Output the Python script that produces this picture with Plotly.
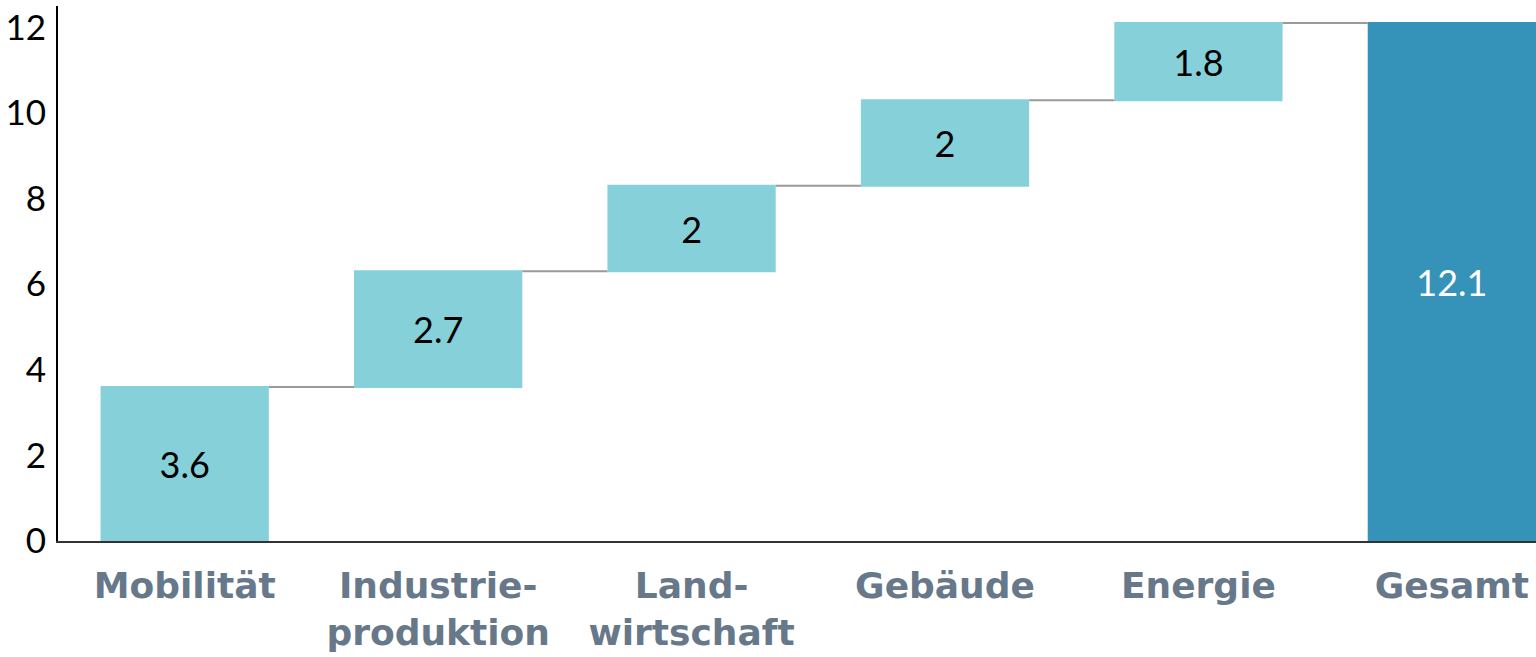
import plotly.graph_objects as go

# data
categories = ["Mobilität", "Industrie-<br>produktion", "Land-<br>wirtschaft", "Gebäude", "Energie", "Gesamt"]
values = [3.6, 2.7, 2, 2, 1.8, 0]
measures = ["relative", "relative", "relative", "relative", "relative", "total"]
labels = ["3.6", "2.7", "2", "2", "1.8", "12.1"]
label_colors = ["black", "black", "black", "black", "black", "white"]

fig = go.Figure(go.Waterfall(
    x=categories,
    y=values,
    measure=measures,
    text=labels,
    textposition="inside",
    insidetextanchor="middle",
    textfont=dict(family="Lato", size=36, color=label_colors),
    increasing=dict(marker=dict(color="#85d0d9")),
    totals=dict(marker=dict(color="#3592b8")),
    connector=dict(line=dict(color="#9a9a9a", width=2)),
    width=0.664,
    hoverinfo="skip",
))

fig.update_layout(
    width=1536, height=657,
    margin=dict(l=58, r=0, t=6, b=116),
    paper_bgcolor="white", plot_bgcolor="white",
    showlegend=False,
    uniformtext=dict(mode=False),
)
fig.update_xaxes(
    range=[-0.5, 5.332],
    automargin=False,
    showline=True, linecolor="#333333", linewidth=2,
    showgrid=False, ticks="",
    tickfont=dict(family="DejaVu Sans", size=36, color="#66788a", weight="bold"),
    ticklabelstandoff=12,
)
fig.update_yaxes(
    range=[0, 12.5],
    dtick=2,
    automargin=False,
    showline=True, linecolor="black", linewidth=2,
    showgrid=False, zeroline=False, ticks="",
    tickfont=dict(family="Lato", size=35, color="black"),
    ticklabelstandoff=3,
)

# page body has a default 8px margin, drop it so the figure fills the window
fig.write_html("out.html", config={"displayModeBar": False},
               post_script="document.body.style.margin='0';document.body.style.overflow='hidden';")
